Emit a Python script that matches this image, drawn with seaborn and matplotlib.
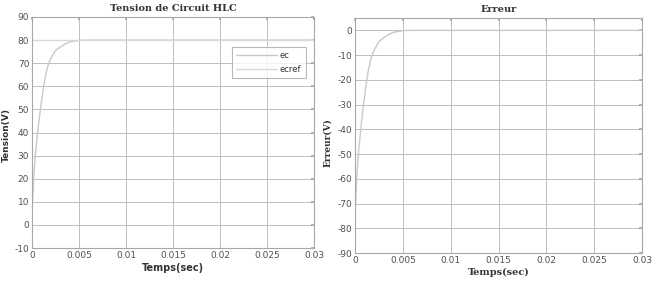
import numpy as np
import pandas as pd
import matplotlib
matplotlib.use("Agg")
import matplotlib.pyplot as plt
import seaborn as sns

# Data
t = [0, 0.0002, 0.0004, 0.0006, 0.0008, 0.001, 0.0012, 0.0014, 0.0017, 0.002,
     0.0025, 0.003, 0.0035, 0.004, 0.005, 0.006, 0.01, 0.02, 0.03]
ec = [5, 22, 32, 40, 47, 53, 59, 64, 69, 72, 75.5, 77, 78.3, 79.2, 79.9, 80, 80, 80, 80]
ecref = [80] * len(t)
err = [v - 80 for v in ec]

xticks = [0, 0.005, 0.01, 0.015, 0.02, 0.025, 0.03]
xticklabels = ["0", "0.005", "0.01", "0.015", "0.02", "0.025", "0.03"]
yticks_l = list(range(-10, 91, 10))
yticks_r = list(range(-90, 1, 10))

sns.set_theme(style="white")
plt.rcParams['font.family'] = ['DejaVu Sans']
plt.rcParams['axes.unicode_minus'] = False

df = pd.DataFrame({"t": t, "ec": ec, "ecref": ecref, "err": err})

fig = plt.figure(figsize=(6.53, 3.0), dpi=100)
ax1 = fig.add_axes([32/653, 1 - 248/300, 282/653, 231/300])
ax2 = fig.add_axes([355/653, 1 - 253/300, 287/653, 235/300])

line_col = "#c9c9c9"
grid_col = "#bdbdbd"
frame_col = "#a8a8a8"
text_col = "#505050"

sns.lineplot(data=df, x="t", y="ec", ax=ax1, color=line_col, lw=1.0, label="ec")
sns.lineplot(data=df, x="t", y="ecref", ax=ax1, color="#d8d8d8", lw=1.0, label="ecref")
sns.lineplot(data=df, x="t", y="err", ax=ax2, color=line_col, lw=1.0, legend=False)

for ax, yt, ylim in [(ax1, yticks_l, (-10, 90)), (ax2, yticks_r, (-90, 5))]:
    ax.set_xlim(0, 0.03)
    ax.set_ylim(*ylim)
    ax.set_xticks(xticks)
    ax.set_xticklabels(xticklabels)
    ax.set_yticks(yt)
    ax.grid(True, color=grid_col, lw=0.7)
    ax.tick_params(direction="in", length=2, labelsize=6.5, colors=frame_col,
                   labelcolor=text_col, top=True, right=True, pad=2)
    for s in ax.spines.values():
        s.set_color(frame_col)
        s.set_linewidth(0.8)

ax1.set_title("Tension de Circuit HLC", fontsize=7, fontweight="bold",
              family="DejaVu Serif", color="#333333", pad=4)
ax2.set_title("Erreur", fontsize=7, fontweight="bold",
              family="DejaVu Serif", color="#333333", pad=4)
ax1.set_xlabel("Temps(sec)", fontsize=7, fontweight="bold", color="#333333", labelpad=2)
ax2.set_xlabel("Temps(sec)", fontsize=7, fontweight="bold", family="DejaVu Serif",
               color="#333333", labelpad=2)
ax1.set_ylabel("Tension(V)", fontsize=6.5, fontweight="bold", color="#333333",
               va="center")
ax2.set_ylabel("Erreur(V)", fontsize=6.5, fontweight="bold", family="DejaVu Serif",
               color="#333333", va="center")
ax1.yaxis.set_label_coords(-0.092, 0.49)
ax2.yaxis.set_label_coords(-0.094, 0.47)

leg = ax1.legend(loc="upper right", bbox_to_anchor=(0.985, 0.89), fontsize=6,
                 frameon=True, fancybox=False, handlelength=5, borderpad=0.5,
                 labelspacing=0.6, handletextpad=0.3)
leg.get_frame().set_edgecolor(frame_col)
leg.get_frame().set_linewidth(0.8)
for txt in leg.get_texts():
    txt.set_color("#333333")

fig.savefig("out.png", dpi=100, facecolor="white")
